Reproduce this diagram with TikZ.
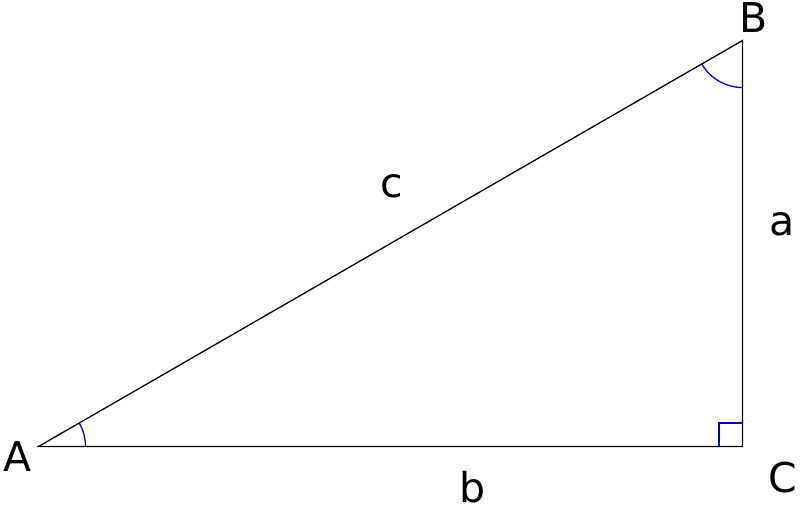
\documentclass[tikz,border=0pt]{standalone}
\usepackage{fontspec}
\setmainfont{DejaVu Sans}
\begin{document}
\begin{tikzpicture}[x=1pt,y=1pt,
  edge/.style={black,line width=1.3pt},
  mark/.style={},
  anglemark/.style={draw=blue!80!black,line width=1.3pt},
  lbl/.style={anchor=base,inner sep=0pt,font=\fontsize{41}{41}\selectfont}]
\useasboundingbox (0,0) rectangle (800,506);
\coordinate (A) at (38.5,59.5);
\coordinate (C) at (742.5,59.5);
\coordinate (B) at (742.5,465.5);
\draw[edge] (A) -- (C) -- (B) -- cycle;
\draw[anglemark] ([xshift=47pt]A) arc[start angle=0,end angle=29.97,radius=47pt];
\draw[anglemark] ([shift={(209.97:47pt)}]B) arc[start angle=209.97,end angle=270,radius=47pt];
\draw[anglemark] ([xshift=-23.5pt]C) -- ++(0,23.5) coordinate (sq) -- ([yshift=23.5pt]C);
\node[lbl] (lA) at (17.5,35) {A};
\node[lbl] (lB) at (754,473) {B};
\node[lbl] (lC) at (782.5,14) {C};
\node[lbl] (la) at (782.5,270) {a};
\node[lbl] (lb) at (472.5,4) {b};
\node[lbl] (lc) at (391.5,308) {c};
\end{tikzpicture}
\end{document}
